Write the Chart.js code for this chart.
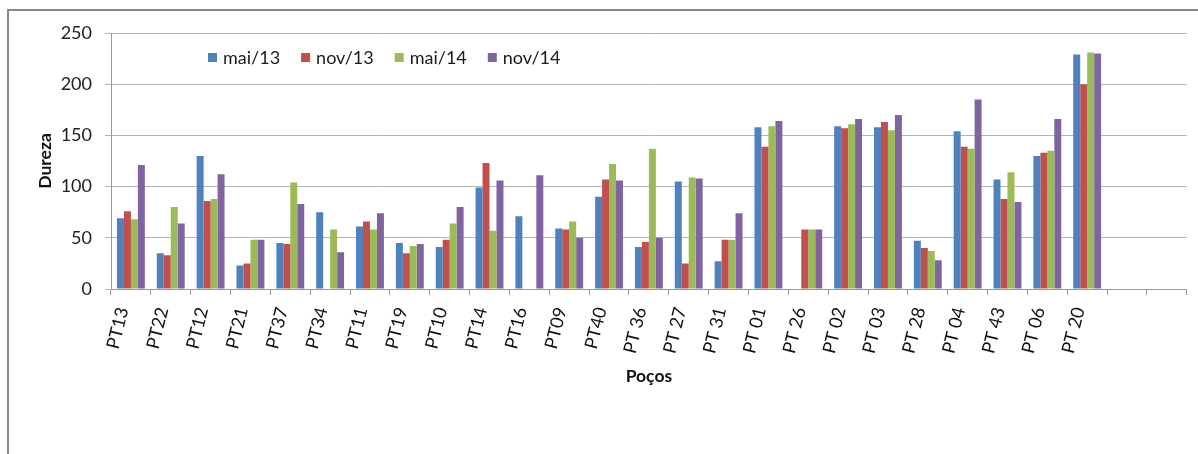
<!DOCTYPE html>
<html>
<head>
<meta charset="utf-8">
<script src="https://cdn.jsdelivr.net/npm/chart.js@4/dist/chart.umd.min.js"></script>
<style>
  html, body { margin: 0; padding: 0; background: #fff; overflow: hidden; }
  #wrap { position: relative; width: 1198px; height: 454px; }
  #frame { position: absolute; left: 7px; top: 9px; width: 1400px; height: 800px;
           border: 2px solid #878787; box-sizing: border-box; }
  canvas { position: absolute; left: 0; top: 0; }
</style>
</head>
<body>
<div id="wrap">
  <div id="frame"></div>
  <canvas id="c" width="1198" height="454"></canvas>
</div>
<script>
// Wells (two trailing empty slots keep the axis length)
const pocos = ['PT13','PT22','PT12','PT21','PT37','PT34','PT11','PT19','PT10','PT14','PT16','PT09','PT40',
  'PT 36','PT 27','PT 31','PT 01','PT 26','PT 02','PT 03','PT 28','PT 04','PT 43','PT 06','PT 20','',''];

// Hardness per sampling campaign
const mai13 = [69, 35, 130, 23, 45, 75, 61, 45, 41, 99, 71, 59, 90, 41, 105, 27, 158, null, 159, 158, 47, 154, 107, 130, 229, null, null];
const nov13 = [76, 33, 86, 25, 44, null, 66, 35, 48, 123, null, 58, 107, 46, 25, 48, 139, 58, 157, 163, 40, 139, 88, 133, 200, null, null];
const mai14 = [68, 80, 88, 48, 104, 58, 58, 42, 64, 57, null, 66, 122, 137, 109, 48, 159, 58, 161, 155, 37, 137, 114, 135, 231, null, null];
const nov14 = [121, 64, 112, 48, 83, 36, 74, 44, 80, 106, 111, 50, 106, 50, 108, 74, 164, 58, 166, 170, 28, 185, 85, 166, 230, null, null];

const seriesNames = ['mai/13', 'nov/13', 'mai/14', 'nov/14'];
const seriesColors = ['#4F81BD', '#C0504D', '#9BBB59', '#8064A2'];

const yTicks = [0, 50, 100, 150, 200, 250];

const FONT = 'Lato, "Open Sans", sans-serif';

// Legend drawn inside the plot area, one row
const insideLegend = {
  id: 'insideLegend',
  afterDatasetsDraw(chart) {
    const ctx = chart.ctx;
    ctx.save();
    ctx.font = '18px ' + FONT;
    ctx.textBaseline = 'middle';
    ctx.textAlign = 'left';
    let x = chart.chartArea.left + 97;
    const yMid = chart.chartArea.top + 25;
    chart.data.datasets.forEach(ds => {
      ctx.fillStyle = ds.backgroundColor;
      ctx.fillRect(x, yMid - 5, 9, 9);
      ctx.fillStyle = '#1a1a1a';
      ctx.fillText(ds.label, x + 15, yMid);
      x += 15 + ctx.measureText(ds.label).width + 21;
    });
    ctx.restore();
  }
};

const series = [mai13, nov13, mai14, nov14];

new Chart(document.getElementById('c'), {
  type: 'bar',
  data: {
    labels: pocos,
    datasets: series.map((vals, i) => ({
      label: seriesNames[i],
      data: vals,
      backgroundColor: seriesColors[i],
      borderWidth: 0,
      categoryPercentage: 0.7,
      barPercentage: 1.0
    }))
  },
  options: {
    responsive: false,
    animation: false,
    layout: { padding: { top: 33, right: 10, left: 0, bottom: 0 } },
    plugins: {
      legend: { display: false },
      tooltip: { enabled: false },
      title: { display: false }
    },
    scales: {
      x: {
        grid: { drawOnChartArea: false, drawTicks: true, tickLength: 6, color: '#9a9a9a', offset: true },
        border: { color: '#9a9a9a', width: 1 },
        ticks: {
          color: '#111',
          font: { family: FONT, size: 18 },
          minRotation: 76, maxRotation: 76,
          autoSkip: false,
          padding: 10,
          labelOffset: -8
        },
        title: {
          display: true, text: 'Poços', color: '#111',
          font: { family: FONT, size: 17.5, weight: 'bold' },
          padding: { top: 0, bottom: 67 }
        },
        afterFit(scale) { scale.height = 165; }
      },
      y: {
        min: 0, max: 250,
        afterBuildTicks(scale) { scale.ticks = yTicks.map(v => ({ value: v })); },
        grid: { color: '#b4b4b4', tickLength: 6, drawTicks: true },
        border: { color: '#9a9a9a', width: 1 },
        ticks: {
          color: '#222',
          font: { family: FONT, size: 18 },
          padding: 13
        },
        title: {
          display: true, text: 'Dureza', color: '#111',
          font: { family: FONT, size: 17.5, weight: 'bold' },
          padding: { top: 35, bottom: 0 }
        },
        afterFit(scale) { scale.width = 111; }
      }
    }
  },
  plugins: [insideLegend]
});
</script>
</body>
</html>
